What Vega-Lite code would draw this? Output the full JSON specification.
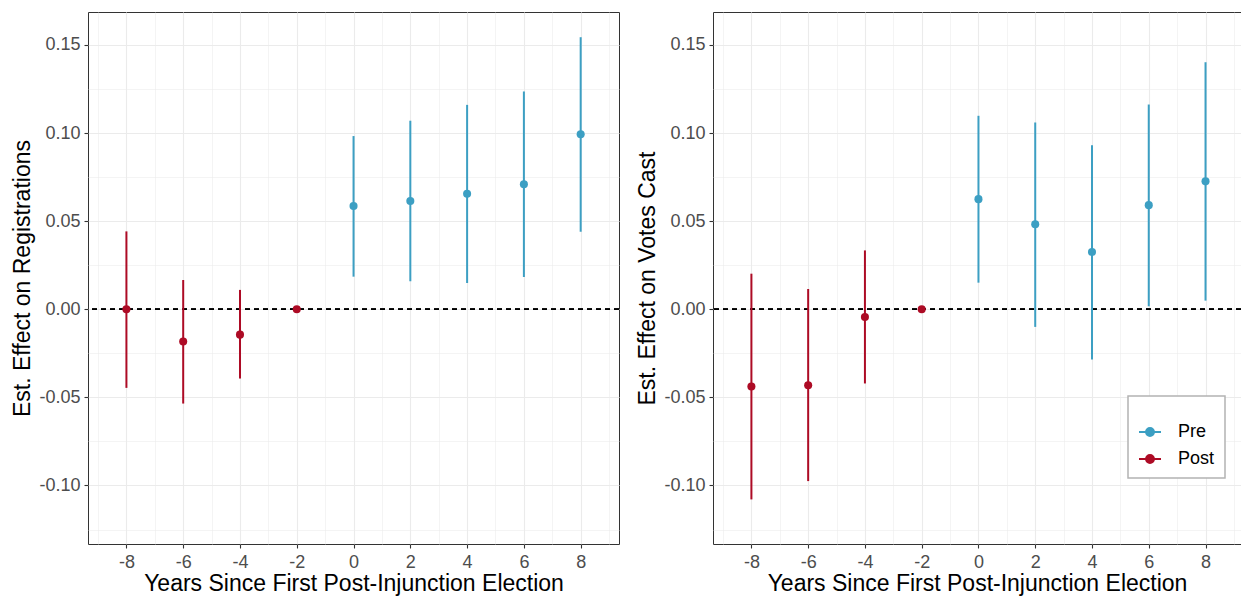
{
  "$schema": "https://vega.github.io/schema/vega-lite/v6.json",
  "padding": {"left": 11, "top": 11, "right": 0, "bottom": 0},
  "background": "white",
  "data": {"values": [
    {"panel": "reg", "year": -8, "est": 0, "lo": -0.0446, "hi": 0.0442, "period": "Post"},
    {"panel": "reg", "year": -6, "est": -0.0183, "lo": -0.0535, "hi": 0.0166, "period": "Post"},
    {"panel": "reg", "year": -4, "est": -0.0144, "lo": -0.0393, "hi": 0.011, "period": "Post"},
    {"panel": "reg", "year": -2, "est": 0, "lo": 0, "hi": 0, "period": "Post"},
    {"panel": "reg", "year": 0, "est": 0.0586, "lo": 0.0185, "hi": 0.0983, "period": "Pre"},
    {"panel": "reg", "year": 2, "est": 0.0614, "lo": 0.0159, "hi": 0.107, "period": "Pre"},
    {"panel": "reg", "year": 4, "est": 0.0656, "lo": 0.0149, "hi": 0.116, "period": "Pre"},
    {"panel": "reg", "year": 6, "est": 0.071, "lo": 0.0183, "hi": 0.1236, "period": "Pre"},
    {"panel": "reg", "year": 8, "est": 0.0993, "lo": 0.044, "hi": 0.1544, "period": "Pre"},
    {"panel": "votes", "year": -8, "est": -0.0438, "lo": -0.1079, "hi": 0.0202, "period": "Post"},
    {"panel": "votes", "year": -6, "est": -0.0431, "lo": -0.0975, "hi": 0.0115, "period": "Post"},
    {"panel": "votes", "year": -4, "est": -0.0044, "lo": -0.0421, "hi": 0.0334, "period": "Post"},
    {"panel": "votes", "year": -2, "est": 0, "lo": 0, "hi": 0, "period": "Post"},
    {"panel": "votes", "year": 0, "est": 0.0625, "lo": 0.0151, "hi": 0.1098, "period": "Pre"},
    {"panel": "votes", "year": 2, "est": 0.0482, "lo": -0.01, "hi": 0.106, "period": "Pre"},
    {"panel": "votes", "year": 4, "est": 0.0325, "lo": -0.0285, "hi": 0.0931, "period": "Pre"},
    {"panel": "votes", "year": 6, "est": 0.0591, "lo": 0.0017, "hi": 0.1162, "period": "Pre"},
    {"panel": "votes", "year": 8, "est": 0.0726, "lo": 0.0049, "hi": 0.1402, "period": "Pre"}
  ]},
  "spacing": 15,
  "hconcat": [
    {
      "width": 531,
      "height": 532,
      "transform": [{"filter": "datum.panel == 'reg'"}],
      "layer": [
        {
          "mark": {"type": "point", "opacity": 0},
          "encoding": {
            "x": {"field": "year", "type": "quantitative", "scale": {"domain": [-9.353, 9.35], "nice": false, "zero": false},
              "axis": {"orient": "bottom", "title": null, "labels": false, "ticks": false, "grid": true, "gridWidth": 0.55,
                "values": [-9, -7, -5, -3, -1, 1, 3, 5, 7, 9]}},
            "y": {"field": "est", "type": "quantitative", "scale": {"domain": [-0.1332, 0.1687], "nice": false, "zero": false},
              "axis": {"orient": "left", "title": null, "labels": false, "ticks": false, "grid": true, "gridWidth": 0.55,
                "values": [-0.125, -0.075, -0.025, 0.025, 0.075, 0.125]}}
          }
        },
        {
          "mark": {"type": "rule", "strokeDash": [5, 4], "color": "black", "strokeWidth": 1.1},
          "encoding": {
            "y": {"datum": 0, "type": "quantitative", "axis": null}
          }
        },
        {
          "mark": {"type": "rule", "strokeWidth": 2},
          "encoding": {
            "x": {"field": "year", "type": "quantitative",
              "axis": {"orient": "bottom", "title": "Years Since First Post-Injunction Election", "grid": true, "gridWidth": 1.1,
                "values": [-8, -6, -4, -2, 0, 2, 4, 6, 8],
                "labelExpr": "replace(datum.label, '\u2212', '-')"}},
            "y": {"field": "lo", "type": "quantitative",
              "axis": {"orient": "left", "title": "Est. Effect on Registrations", "grid": true, "gridWidth": 1.1,
                "values": [-0.1, -0.05, 0, 0.05, 0.1, 0.15], "format": ".2f",
                "labelExpr": "replace(datum.label, '\u2212', '-')"}},
            "y2": {"field": "hi"},
            "color": {"field": "period", "type": "nominal", "scale": {"domain": ["Pre", "Post"], "range": ["#3C9FC3", "#AD0B25"]},
              "legend": {"title": " ", "encode": {"symbols": {"update": {"stroke": {"scale": "color", "field": "value"}}}}}}
          }
        },
        {
          "mark": {"type": "point", "filled": true, "size": 65, "opacity": 1},
          "encoding": {
            "x": {"field": "year", "type": "quantitative", "axis": null},
            "y": {"field": "est", "type": "quantitative", "axis": null},
            "color": {"field": "period", "type": "nominal", "scale": {"domain": ["Pre", "Post"], "range": ["#3C9FC3", "#AD0B25"]},
              "legend": {"title": " ", "encode": {"symbols": {"update": {"stroke": {"scale": "color", "field": "value"}}}}}}
          }
        }
      ],
      "resolve": {"axis": {"x": "independent", "y": "independent"}}
    },
    {
      "width": 528,
      "height": 532,
      "transform": [{"filter": "datum.panel == 'votes'"}],
      "layer": [
        {
          "mark": {"type": "point", "opacity": 0},
          "encoding": {
            "x": {"field": "year", "type": "quantitative", "scale": {"domain": [-9.353, 9.25], "nice": false, "zero": false},
              "axis": {"orient": "bottom", "title": null, "labels": false, "ticks": false, "grid": true, "gridWidth": 0.55,
                "values": [-9, -7, -5, -3, -1, 1, 3, 5, 7, 9]}},
            "y": {"field": "est", "type": "quantitative", "scale": {"domain": [-0.1332, 0.1687], "nice": false, "zero": false},
              "axis": {"orient": "left", "title": null, "labels": false, "ticks": false, "grid": true, "gridWidth": 0.55,
                "values": [-0.125, -0.075, -0.025, 0.025, 0.075, 0.125]}}
          }
        },
        {
          "mark": {"type": "rule", "strokeDash": [5, 4], "color": "black", "strokeWidth": 1.1},
          "encoding": {
            "y": {"datum": 0, "type": "quantitative", "axis": null}
          }
        },
        {
          "mark": {"type": "rule", "strokeWidth": 2},
          "encoding": {
            "x": {"field": "year", "type": "quantitative",
              "axis": {"orient": "bottom", "title": "Years Since First Post-Injunction Election", "grid": true, "gridWidth": 1.1,
                "values": [-8, -6, -4, -2, 0, 2, 4, 6, 8],
                "labelExpr": "replace(datum.label, '\u2212', '-')"}},
            "y": {"field": "lo", "type": "quantitative",
              "axis": {"orient": "left", "title": "Est. Effect on Votes Cast", "grid": true, "gridWidth": 1.1,
                "values": [-0.1, -0.05, 0, 0.05, 0.1, 0.15], "format": ".2f",
                "labelExpr": "replace(datum.label, '\u2212', '-')"}},
            "y2": {"field": "hi"},
            "color": {"field": "period", "type": "nominal", "scale": {"domain": ["Pre", "Post"], "range": ["#3C9FC3", "#AD0B25"]},
              "legend": {"title": " ", "encode": {"symbols": {"update": {"stroke": {"scale": "color", "field": "value"}}}}}}
          }
        },
        {
          "mark": {"type": "point", "filled": true, "size": 65, "opacity": 1},
          "encoding": {
            "x": {"field": "year", "type": "quantitative", "axis": null},
            "y": {"field": "est", "type": "quantitative", "axis": null},
            "color": {"field": "period", "type": "nominal", "scale": {"domain": ["Pre", "Post"], "range": ["#3C9FC3", "#AD0B25"]},
              "legend": {"title": " ", "encode": {"symbols": {"update": {"stroke": {"scale": "color", "field": "value"}}}}}}
          }
        }
      ],
      "resolve": {"axis": {"x": "independent", "y": "independent"}}
    }
  ],
  "resolve": {"scale": {"color": "shared"}, "legend": {"color": "shared"}},
  "config": {
    "font": "Liberation Sans",
    "view": {"stroke": "#333333", "strokeWidth": 1},
    "axis": {
      "domain": false,
      "labelFont": "Liberation Sans", "labelFontSize": 18, "labelColor": "#4D4D4D",
      "titleFont": "Liberation Sans", "titleFontSize": 23, "titleColor": "black", "titleFontWeight": "normal",
      "tickColor": "#333333", "tickSize": 4, "tickWidth": 1.1,
      "gridColor": "#EBEBEB", "labelPadding": 4
    },
    "axisX": {"titlePadding": 1, "labelPadding": 5},
    "axisY": {"titlePadding": 4},
    "legend": {
      "orient": "none", "legendX": 1040, "legendY": 384,
      "strokeColor": "#B3B3B3", "strokeWidth": 1.5, "fillColor": "white", "padding": 10,
      "titleFontSize": 14, "titlePadding": 0,
      "symbolType": "M-1,0H1M-0.36,0A0.36,0.36,0,1,1,0.36,0A0.36,0.36,0,1,1,-0.36,0Z",
      "symbolSize": 484, "symbolStrokeWidth": 2, "symbolOpacity": 1,
      "labelFont": "Liberation Sans", "labelFontSize": 18, "labelColor": "black", "labelOffset": 16,
      "rowPadding": 6
    }
  }
}
